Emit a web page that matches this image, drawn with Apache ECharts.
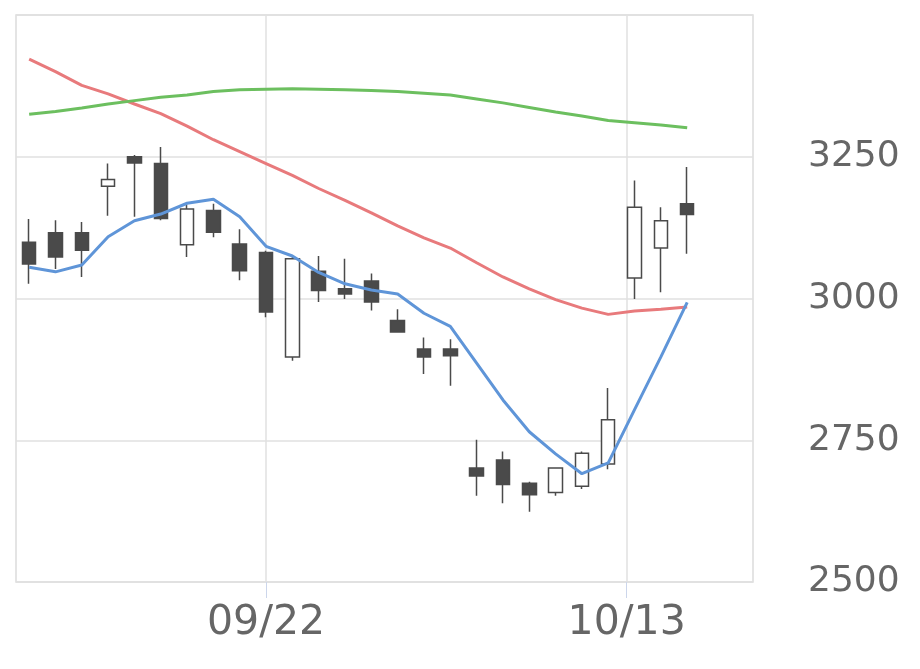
<!DOCTYPE html>
<html>
<head>
<meta charset="utf-8">
<script src="https://cdn.jsdelivr.net/npm/echarts@6/dist/echarts.min.js"></script>
<style>
html,body{margin:0;padding:0;background:#fff;}
#chart{width:920px;height:669px;}
</style>
</head>
<body>
<div id="chart"></div>
<script>
// trading days (index positions on the x axis)
const categories = ['09/08','09/09','09/10','09/11','09/12','09/16','09/17','09/18','09/19',
  '09/22','09/24','09/25','09/26','09/29','09/30','10/01','10/02','10/03','10/06','10/07',
  '10/08','10/09','10/10','10/14','10/15','10/16'];
// [open, close, low, high]
const ohlc = [
  [3099,3061,3026,3140],
  [3116,3073,3052,3138],
  [3116,3085,3038,3135],
  [3198,3210,3146,3238],
  [3250,3239,3144,3253],
  [3238,3141,3138,3267],
  [3095,3158,3073,3165],
  [3155,3117,3108,3167],
  [3096,3049,3032,3122],
  [3081,2976,2967,3084],
  [2897,3070,2890,3074],
  [3048,3014,2994,3075],
  [3017,3008,2999,3070],
  [3031,2994,2979,3044],
  [2961,2941,2940,2981],
  [2911,2897,2867,2931],
  [2911,2899,2846,2928],
  [2701,2687,2652,2751],
  [2715,2672,2639,2730],
  [2674,2654,2624,2677],
  [2658,2701,2652,2701],
  [2669,2727,2664,2730],
  [2708,2786,2699,2842],
  [3036,3161,2999,3208],
  [3089,3137,3011,3161],
  [3167,3148,3079,3232]
];
const ma5 = [3055,3047,3059,3109,3137,3149,3168,3175,3144,3092,3075,3046,3026,3015,3008,2974,2951,2886,2821,2765,2726,2691,2710,2804,2897,2993];
const ma25 = [3422,3400,3376,3361,3343,3326,3304,3280,3259,3238,3217,3194,3173,3151,3128,3107,3089,3063,3038,3017,2998,2983,2972,2978,2981,2985];
const ma75 = [3325,3330,3336,3343,3349,3355,3359,3365,3368,3369,3370,3369,3368,3367,3365,3362,3359,3352,3345,3337,3329,3322,3314,3310,3306,3301];
const xTickPositions = [9, 22.7];
const xTickLabels = ['09/22', '10/13'];

const chart = echarts.init(document.getElementById('chart'), null, {renderer: 'canvas'});
const candleData = ohlc.map((d, i) => [i, d[0], d[1], d[2], d[3]]);
const toLine = arr => arr.map((v, i) => [i, v]);

chart.setOption({
  animation: false,
  backgroundColor: '#fff',
  grid: {left: 16, right: 167, top: 15, bottom: 87, show: true, borderColor: '#dcdcdc', borderWidth: 1.5, containLabel: false},
  xAxis: {
    type: 'value', min: -0.5, max: 27.5,
    axisLine: {show: false},
    axisTick: {show: true, customValues: xTickPositions, length: 16, lineStyle: {color: '#ccd6eb', width: 1}},
    axisLabel: {
      show: true, customValues: xTickPositions, margin: 21,
      fontSize: 41, color: '#666', fontFamily: 'DejaVu Sans',
      formatter: function (v) {
        const k = xTickPositions.findIndex(p => Math.abs(p - v) < 1e-6);
        return k >= 0 ? xTickLabels[k] : '';
      }
    },
    splitLine: {show: true, lineStyle: {color: '#e0e0e0', width: 1.5}}
  },
  yAxis: {
    type: 'value', position: 'right', min: 2500, max: 3500, interval: 250,
    axisLine: {show: false}, axisTick: {show: false},
    axisLabel: {show: true, showMaxLabel: false, margin: 55, fontSize: 36, color: '#666', fontFamily: 'DejaVu Sans',
      formatter: v => String(v)},
    splitLine: {show: true, lineStyle: {color: '#e0e0e0', width: 1.5}}
  },
  series: [
    {
      type: 'candlestick', data: candleData,
      encode: {x: 0, y: [1, 2, 3, 4]},
      barWidth: 14,
      itemStyle: {color: '#ffffff', color0: '#4a4a4a', borderColor: '#4a4a4a', borderColor0: '#4a4a4a', borderWidth: 1.5}
    },
    {type: 'line', data: toLine(ma25), showSymbol: false, lineStyle: {color: '#e87a7c', width: 3}, z: 3},
    {type: 'line', data: toLine(ma75), showSymbol: false, lineStyle: {color: '#6cbf5f', width: 3}, z: 3},
    {type: 'line', data: toLine(ma5), showSymbol: false, lineStyle: {color: '#5f95d8', width: 3}, z: 3}
  ]
});
</script>
</body>
</html>
